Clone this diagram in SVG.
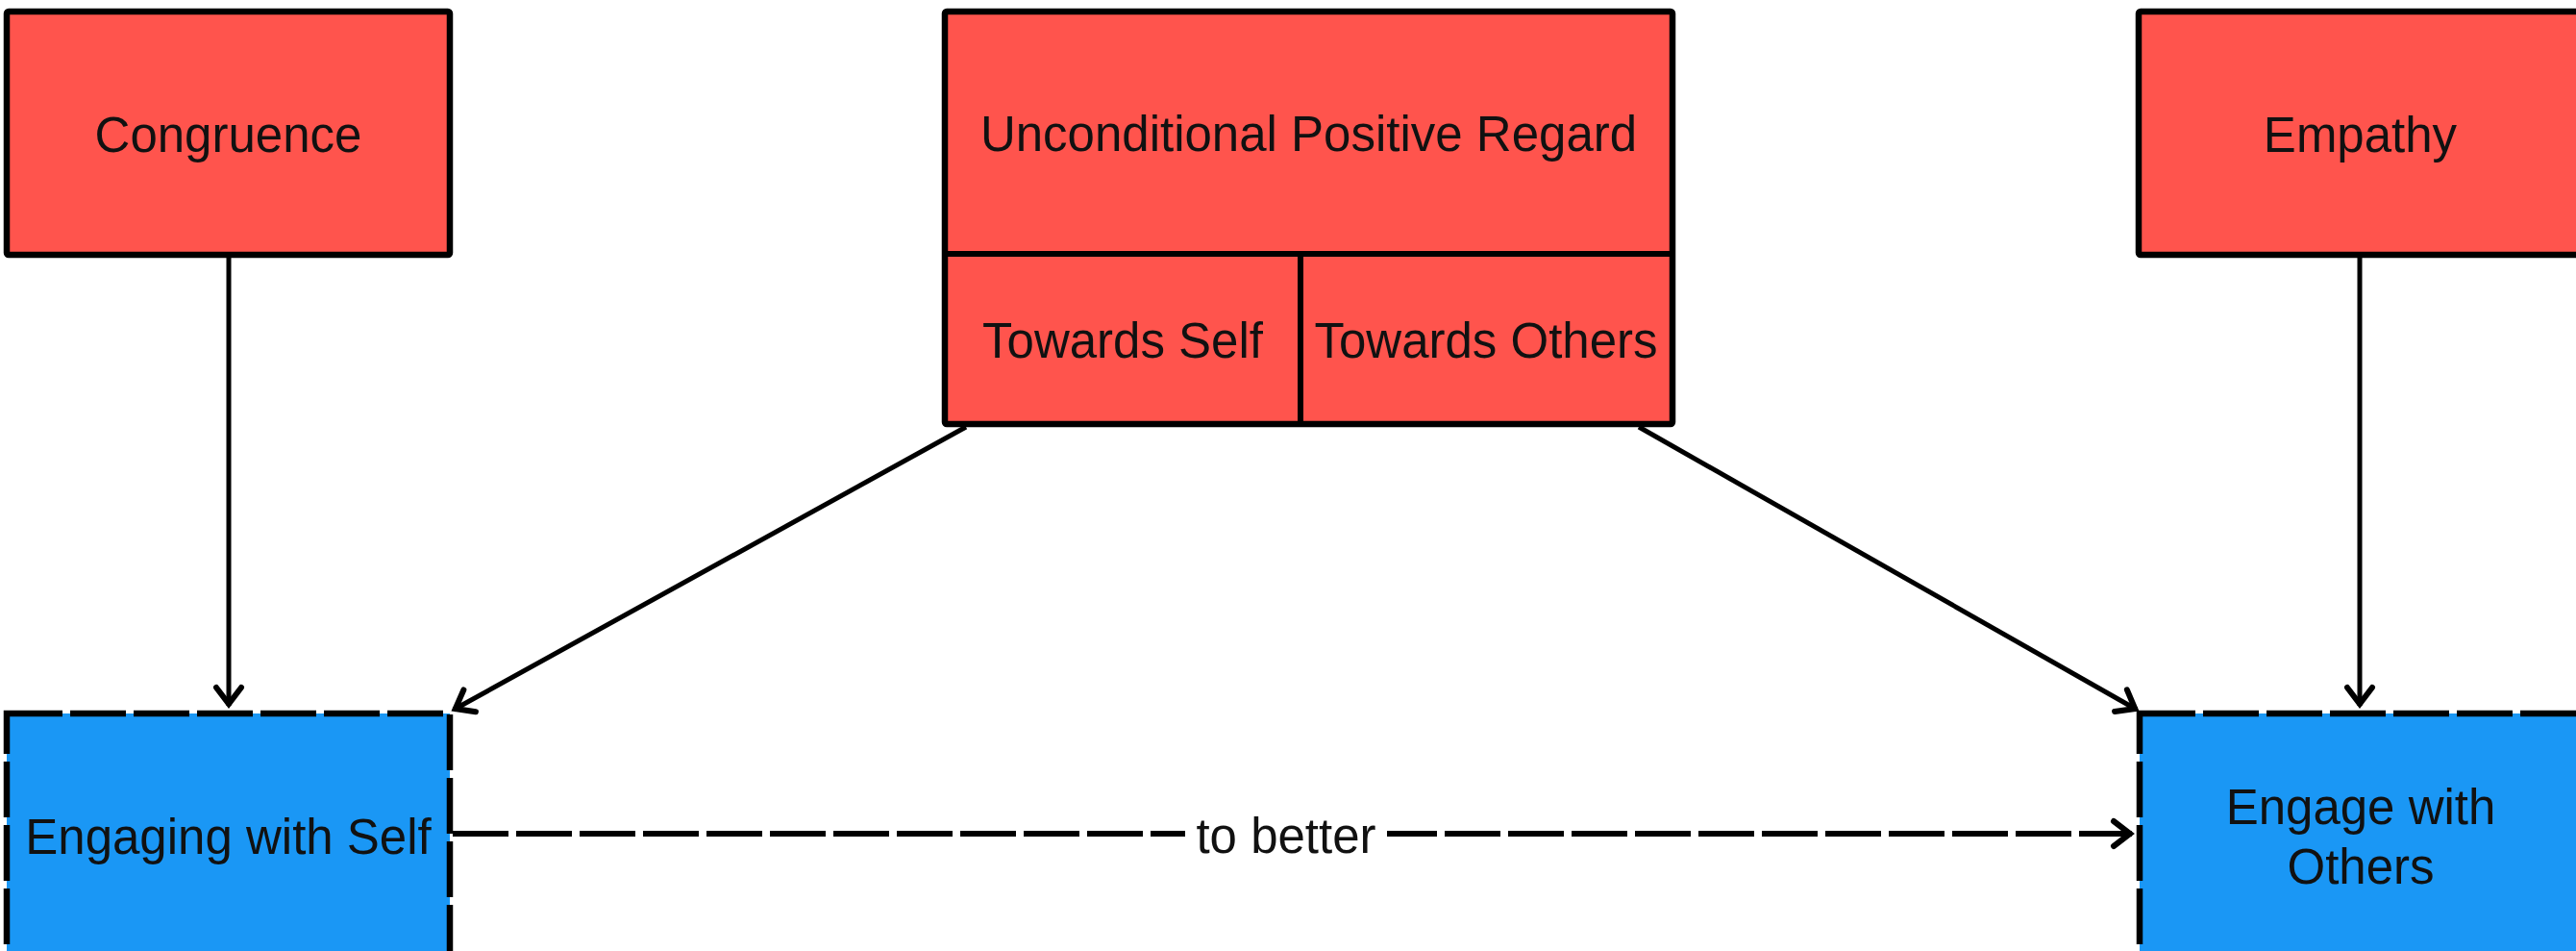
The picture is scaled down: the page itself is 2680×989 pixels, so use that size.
<svg xmlns="http://www.w3.org/2000/svg" width="2680" height="989" viewBox="0 0 2680 989">
<style>
.red{fill:#FF544D;stroke:#000;stroke-width:6.5}
.blue{fill:#1A97F5;stroke:#000;stroke-width:6.5;stroke-dasharray:58 8}
.div{stroke:#000;stroke-width:6;fill:none}
.lbl{font-family:"Liberation Sans",Arial,sans-serif;font-size:51px;fill:#111;text-anchor:middle}
.conn{stroke:#000;stroke-width:5;fill:none;marker-end:url(#arr)}
.dash{stroke-dasharray:58 8;stroke-width:6}
</style>
<defs>
<marker id="arr" markerUnits="userSpaceOnUse" markerWidth="50" markerHeight="50" refX="2" refY="0" viewBox="-25 -25 50 50" orient="auto" overflow="visible">
<path d="M-17,-13 L0,0 L-17,13" fill="none" stroke="#000" stroke-width="6" stroke-linecap="round" stroke-linejoin="miter"/>
</marker>
</defs>
<rect width="2680" height="989" fill="#fff"/>
<g id="connectors">
<line class="conn" x1="238" y1="268" x2="238" y2="734"/>
<line class="conn" x1="2455" y1="268" x2="2455" y2="734"/>
<line class="conn" x1="1005" y1="444" x2="472" y2="738"/>
<line class="conn" x1="1705" y1="444" x2="2223" y2="738"/>
<line class="conn dash" x1="471" y1="867" x2="1233" y2="867" style="marker-end:none"/>
<line class="conn" x1="1443" y1="867" x2="2218" y2="867" style="stroke-dasharray:58 8;stroke-dashoffset:6;stroke-width:6"/>
<text class="lbl" x="1338" y="887">to better</text>
</g>
<g id="congruence">
<rect class="red" x="7" y="12" width="461" height="253" rx="2"/>
<text class="lbl" x="237.5" y="158">Congruence</text>
</g>
<g id="upr">
<rect class="red" x="983" y="12" width="757" height="429" rx="2"/>
<line class="div" x1="983" y1="264" x2="1740" y2="264"/>
<line class="div" x1="1353" y1="264" x2="1353" y2="441"/>
<text class="lbl" x="1361.5" y="157">Unconditional Positive Regard</text>
<text class="lbl" x="1168" y="372">Towards Self</text>
<text class="lbl" x="1546" y="372">Towards Others</text>
</g>
<g id="empathy">
<rect class="red" x="2225" y="12" width="461" height="253" rx="2"/>
<text class="lbl" x="2455.5" y="158">Empathy</text>
</g>
<g id="engaging-self">
<rect class="blue" x="7" y="742" width="461" height="253"/>
<text class="lbl" x="237.5" y="888">Engaging with Self</text>
</g>
<g id="engage-others">
<rect class="blue" x="2226" y="742" width="461" height="253"/>
<text class="lbl" x="2456" y="857">Engage with</text>
<text class="lbl" x="2456" y="919">Others</text>
</g>
</svg>
